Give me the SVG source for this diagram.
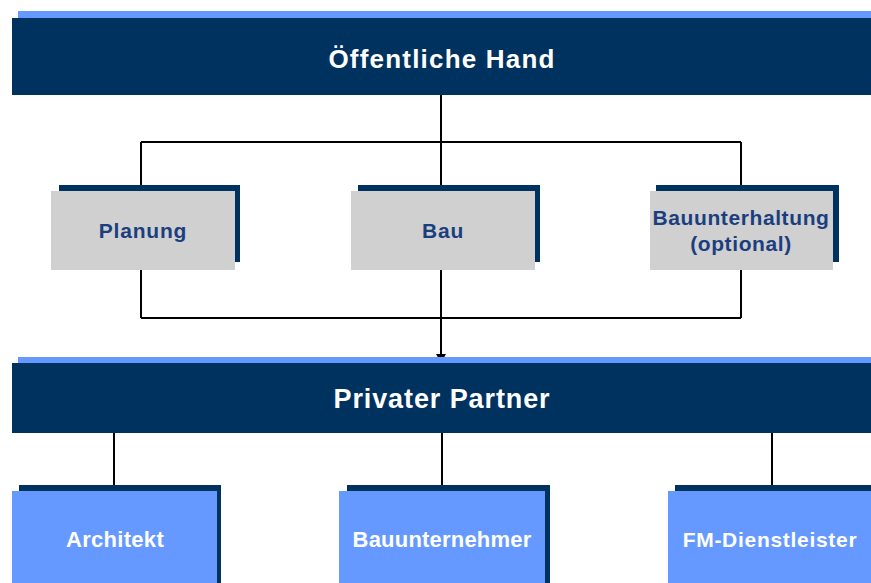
<svg xmlns="http://www.w3.org/2000/svg" width="871" height="583" viewBox="0 0 871 583">
<style>
.bar{fill:#00325f}
.strip{fill:#6699ff}
.sh{fill:#00325f}
.gray{fill:#d0d0d0}
.blue{fill:#6699ff}
.t{font-family:"Liberation Sans",Arial,sans-serif;font-weight:bold;text-anchor:middle}
.tw{fill:#ffffff}
.tn{fill:#1b3f7e}
.c{stroke:#000;stroke-width:2;fill:none}
</style>
<rect width="871" height="583" fill="#fff"/>
<g id="connectors">
<path class="c" d="M441,95 V142 M141,142 H741 M141,142 V185 M441,142 V185 M741,142 V185"/>
<path class="c" d="M141,270 V318 M441,270 V318 M741,270 V318 M141,318 H741"/>
<path class="c" d="M441,318 V356"/>
<path d="M436,354 L446,354 L441,363 Z" fill="#000"/>
<path class="c" d="M114,433 V485 M442,433 V485 M772,433 V485"/>
</g>
<g id="oeffentliche-hand">
<rect class="strip" x="18" y="11" width="853" height="8"/>
<rect class="bar" x="12" y="18" width="859" height="77"/>
<text class="t tw" x="442" y="68" font-size="26" letter-spacing="1.2">Öffentliche Hand</text>
</g>
<g id="planung">
<rect class="sh" x="59" y="185" width="181" height="77"/>
<rect class="gray" x="51" y="191" width="184" height="79"/>
<text class="t tn" x="143" y="238" font-size="21" letter-spacing="0.8">Planung</text>
</g>
<g id="bau">
<rect class="sh" x="358" y="185" width="182" height="77"/>
<rect class="gray" x="351" y="191" width="184" height="79"/>
<text class="t tn" x="443" y="238" font-size="21" letter-spacing="0.8">Bau</text>
</g>
<g id="bauunterhaltung">
<rect class="sh" x="656" y="185" width="183" height="77"/>
<rect class="gray" x="650" y="191" width="183" height="79"/>
<text class="t tn" x="741" y="225" font-size="21" letter-spacing="0.6">Bauunterhaltung</text>
<text class="t tn" x="741" y="251" font-size="21" letter-spacing="0.6">(optional)</text>
</g>
<g id="privater-partner">
<rect class="strip" x="18" y="357" width="853" height="7"/>
<rect class="bar" x="12" y="363" width="859" height="70"/>
<text class="t tw" x="442" y="408" font-size="27" letter-spacing="0.9">Privater Partner</text>
</g>
<g id="architekt">
<rect class="sh" x="19" y="485" width="202" height="98"/>
<rect class="blue" x="12" y="491" width="205" height="92"/>
<text class="t tw" x="115" y="547" font-size="22" letter-spacing="0.3">Architekt</text>
</g>
<g id="bauunternehmer">
<rect class="sh" x="347" y="485" width="203" height="98"/>
<rect class="blue" x="339" y="491" width="206" height="92"/>
<text class="t tw" x="442" y="547" font-size="22" letter-spacing="0.2">Bauunternehmer</text>
</g>
<g id="fm-dienstleister">
<rect class="sh" x="675" y="485" width="196" height="98"/>
<rect class="blue" x="668" y="491" width="203" height="92"/>
<text class="t tw" x="770" y="547" font-size="21" letter-spacing="0.7">FM-Dienstleister</text>
</g>
</svg>
